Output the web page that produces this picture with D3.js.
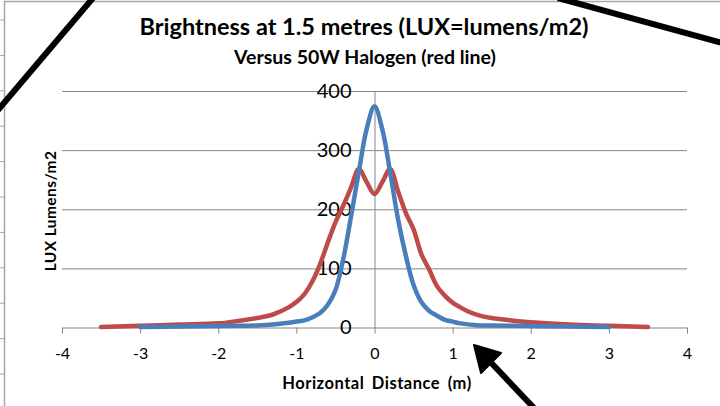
<!DOCTYPE html>
<html>
<head>
<meta charset="utf-8">
<script src="https://cdn.jsdelivr.net/npm/d3@7"></script>
<style>
  body { margin: 0; background: #fff; }
  svg { display: block; font-family: Lato, "Open Sans", sans-serif; }
</style>
</head>
<body>
<svg id="chart"></svg>
<script>
// LED lamp (blue) vs 50W halogen (red), lux against horizontal distance
const ledX =   [-3.0, -2.5, -2.0, -1.5, -1.3, -1.1, -1.0, -0.9, -0.8, -0.7, -0.6, -0.5, -0.4, -0.3, -0.2, -0.1, 0, 0.1, 0.2, 0.3, 0.4, 0.5, 0.6, 0.7, 0.8, 0.9, 1.0, 1.1, 1.3, 1.5, 2.0, 2.5, 3.0];
const ledLux = [1, 1.5, 2.5, 3.5, 5, 8, 10, 12, 17, 24, 38, 63, 116, 188, 264, 336, 374, 335, 263, 184, 122, 72, 43, 28, 20, 13, 10, 7, 4, 3.5, 2.5, 1.5, 1];

const halX =   [-3.5, -3.0, -2.5, -2.0, -1.7, -1.5, -1.3, -1.1, -1.0, -0.9, -0.8, -0.7, -0.6, -0.5, -0.4, -0.3, -0.2, -0.1, 0, 0.1, 0.2, 0.3, 0.4, 0.5, 0.6, 0.7, 0.8, 0.9, 1.0, 1.1, 1.2, 1.35, 1.5, 1.75, 2.0, 2.5, 3.0, 3.5];
const halLux = [1, 3, 5, 7, 12, 16, 22, 34, 43, 56, 77, 106, 143, 178, 206, 237, 268, 246, 226, 246, 268, 231, 194, 166, 124, 98, 70, 54, 42, 34, 27, 20, 16, 12, 9, 5, 3, 1];

const xTicks = [-4, -3, -2, -1, 0, 1, 2, 3, 4];
const yTicks = [0, 100, 200, 300, 400];

const w = 720, h = 406;
const font = 'Lato, "Open Sans", sans-serif';
const svg = d3.select('#chart').attr('width', w).attr('height', h);

const x = d3.scaleLinear().domain([-4, 4]).range([62, 687]);
const y = d3.scaleLinear().domain([0, 400]).range([327.5, 91]);

// frame + little ticks from the sheet behind
svg.append('path')
  .attr('d', 'M4.5,406 V1.5 H720')
  .attr('fill', 'none').attr('stroke', '#a6a6a6').attr('stroke-width', 1.5);
svg.selectAll('.sheetTick')
  .data(d3.range(11))
  .join('line')
    .attr('x1', 0).attr('x2', 4)
    .attr('y1', i => 20 + i * 35.4).attr('y2', i => 20 + i * 35.4)
    .attr('stroke', '#a6a6a6');

// gridlines
svg.append('g')
  .attr('transform', `translate(${x(-4)},0)`)
  .call(d3.axisLeft(y).tickValues(yTicks.slice(1)).tickSize(-(x(4) - x(-4))).tickFormat(''))
  .call(g => g.select('.domain').remove())
  .selectAll('line').attr('stroke', '#868686');

// x axis
const xAxis = svg.append('g')
  .attr('transform', `translate(0,${y(0)})`)
  .call(d3.axisBottom(x).tickValues(xTicks).tickSize(6).tickPadding(14).tickFormat(d3.format('d')));
xAxis.attr('font-family', font);
xAxis.select('.domain').attr('stroke', '#868686');
xAxis.selectAll('line').attr('stroke', '#868686');
xAxis.selectAll('text').attr('font-size', 16).attr('fill', '#000')
  .text(d => d < 0 ? '-' + Math.abs(d) : d);

// y axis at x = 0
const yAxis = svg.append('g')
  .attr('transform', `translate(${x(0)},0)`)
  .call(d3.axisLeft(y).tickValues(yTicks).tickSize(0).tickPadding(23));
yAxis.attr('font-family', font);
yAxis.select('.domain').attr('stroke', '#868686');
yAxis.selectAll('text').attr('font-size', 20).attr('fill', '#000');

// series
const line = d3.line()
  .x(d => x(d[0])).y(d => y(d[1]))
  .curve(d3.curveCatmullRom.alpha(0.5));
svg.append('path')
  .datum(d3.zip(halX, halLux))
  .attr('d', line)
  .attr('fill', 'none').attr('stroke', '#be4b48').attr('stroke-width', 4.5)
  .attr('stroke-linejoin', 'round').attr('stroke-linecap', 'round');
svg.append('path')
  .datum(d3.zip(ledX, ledLux))
  .attr('d', line)
  .attr('fill', 'none').attr('stroke', '#4a7ebb').attr('stroke-width', 4.5)
  .attr('stroke-linejoin', 'round').attr('stroke-linecap', 'round');

// titles
svg.append('text')
  .attr('x', 364).attr('y', 35).attr('text-anchor', 'middle')
  .attr('font-size', 23.5).attr('font-weight', 'bold')
  .text('Brightness at 1.5 metres (LUX=lumens/m2)');
svg.append('text')
  .attr('x', 365).attr('y', 64).attr('text-anchor', 'middle')
  .attr('font-size', 19.5).attr('font-weight', 'bold')
  .text('Versus 50W Halogen (red line)');
svg.append('text')
  .attr('transform', 'translate(56,211) rotate(-90)')
  .attr('text-anchor', 'middle')
  .attr('font-size', 15.5).attr('font-weight', 'bold').attr('letter-spacing', 0.4)
  .text('LUX Lumens/m2');
svg.append('text')
  .attr('x', 377).attr('y', 389).attr('text-anchor', 'middle')
  .attr('font-size', 16.5).attr('font-weight', 'bold')
  .attr('letter-spacing', 0.5).attr('word-spacing', 3)
  .text('Horizontal Distance (m)');

// hand-drawn black marker strokes
const ink = svg.append('g').attr('stroke', '#000').attr('stroke-width', 6).attr('fill', 'none');
ink.append('line').attr('x1', 93).attr('y1', -2).attr('x2', -2).attr('y2', 110);
ink.append('line').attr('x1', 558).attr('y1', -2).attr('x2', 722).attr('y2', 43);
ink.append('line').attr('x1', 480).attr('y1', 351).attr('x2', 534).attr('y2', 408);
svg.append('path')
  .attr('d', 'M474,345 L501,353 L481,373 Z')
  .attr('fill', '#000').attr('stroke', '#000').attr('stroke-width', 2).attr('stroke-linejoin', 'round');
</script>
</body>
</html>
